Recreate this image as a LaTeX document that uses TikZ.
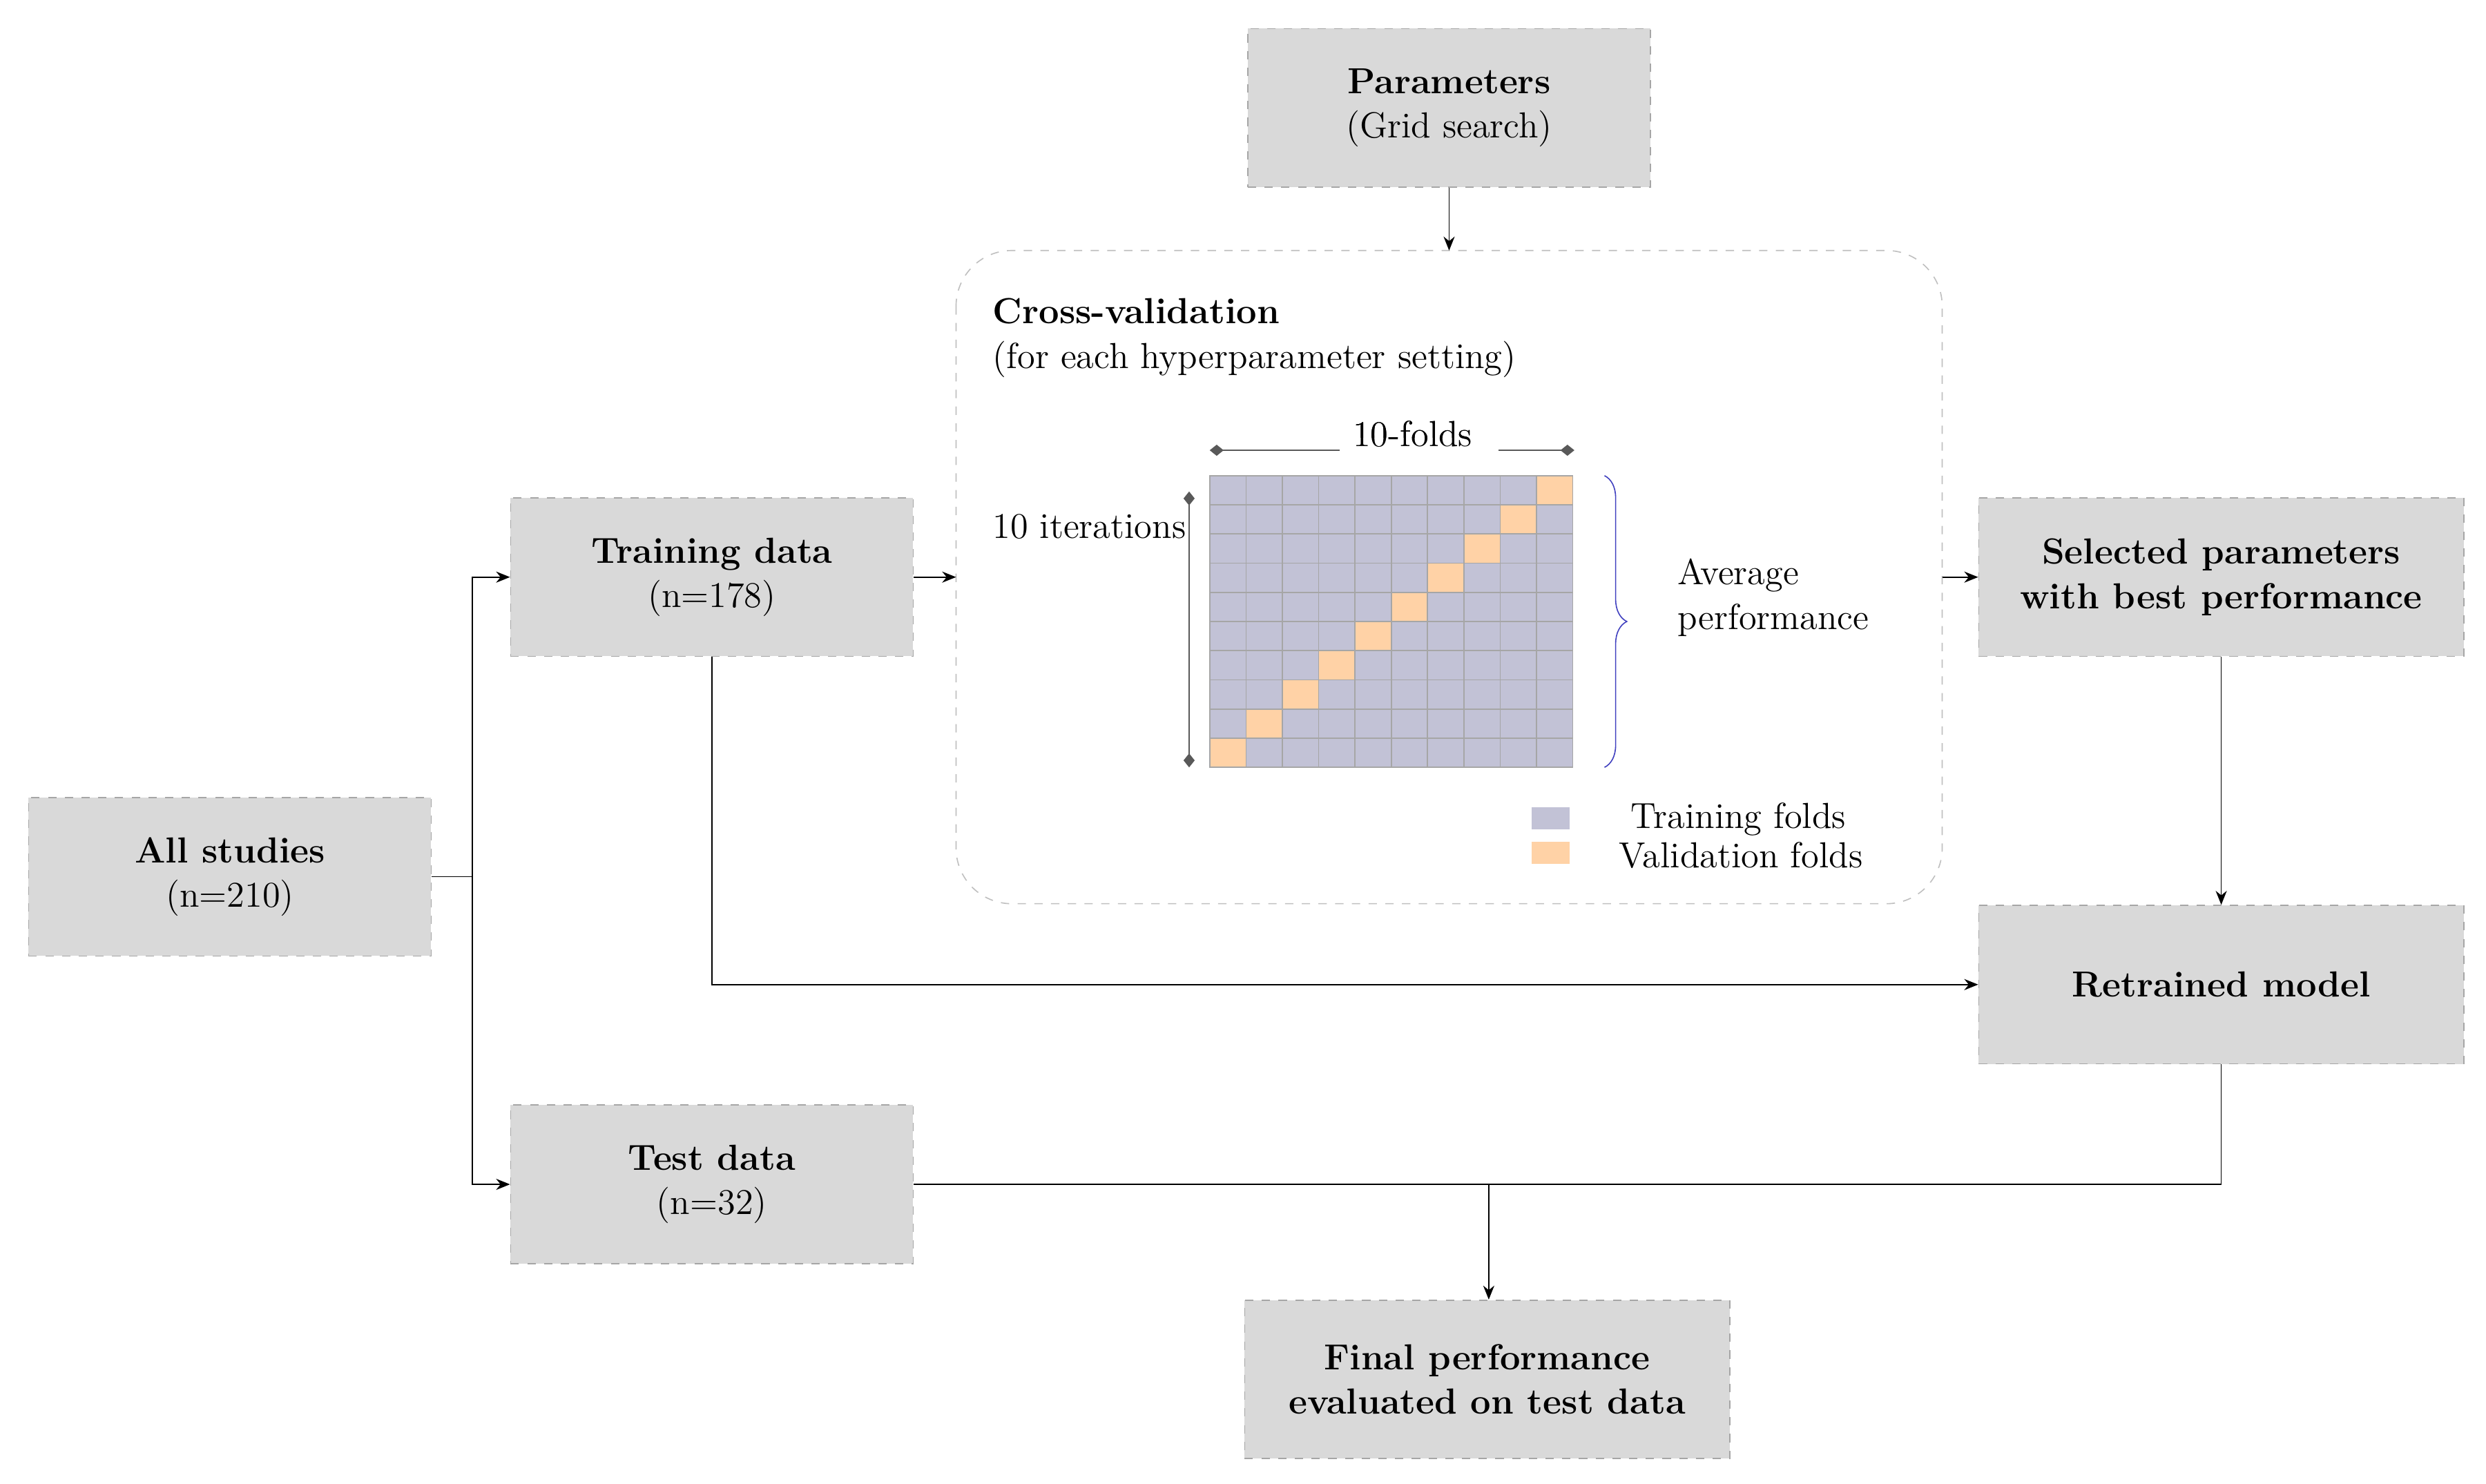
\documentclass[tikz,border=0pt]{standalone}
\usetikzlibrary{arrows.meta,decorations.pathreplacing}
\begin{document}
\begin{tikzpicture}[x=0.02cm,y=-0.02cm,
  box/.style={draw=gray!70,dashed,fill=black!15,minimum width=5.08cm,minimum height=2cm,align=center,font=\fontsize{13}{16}\selectfont,inner sep=0pt},
  arr/.style={-{Stealth[length=5pt,width=4pt]},thin},
  ln/.style={thin},
  dia/.style={{Diamond[length=5pt,width=4pt]}-{Diamond[length=5pt,width=4pt]},gray!70!black,thin}]
\useasboundingbox (0,0) rectangle (1568,936);
\node[box] (par) at (914,68) {\textbf{Parameters}\\(Grid search)};
\node[box,minimum width=6.12cm] (sel) at (1401,364) {\textbf{Selected parameters}\\\textbf{with best performance}};
\node[box,minimum width=6.12cm] (ret) at (1401,621) {\textbf{Retrained model}};
\node[box] (tr) at (449,364) {\textbf{Training data}\\(n=178)};
\node[box] (all) at (145,553) {\textbf{All studies}\\(n=210)};
\node[box] (te) at (449,747) {\textbf{Test data}\\(n=32)};
\node[box,minimum width=6.12cm] (fin) at (938,870) {\textbf{Final performance}\\\textbf{evaluated on test data}};
\draw[gray!50,dashed,rounded corners=20pt] (603,158) rectangle (1225,570);
\coordinate (cvt) at (914,158);
\coordinate (cvl) at (603,364);
\coordinate (cvr) at (1225,364);
\node[anchor=west,font=\fontsize{13}{16}\selectfont,align=left] (cvtitle) at (620,213) {\textbf{Cross-validation}\\(for each hyperparameter setting)};
% grid
\fill[blue!30!gray!45!white,fill=blue!20!gray!40] (763,300) rectangle (992,484);
\foreach \i in {0,...,9}{
  \fill[orange!35] ({763+\i*22.9},{484-(\i+1)*18.4}) rectangle ({763+(\i+1)*22.9},{484-\i*18.4});}
\foreach \i in {1,...,9}{
  \draw[gray!70,thin] ({763+\i*22.9},300) -- ({763+\i*22.9},484);
  \draw[gray!70,thin] (763,{300+\i*18.4}) -- (992,{300+\i*18.4});}
\draw[gray!70,thin] (763,300) rectangle (992,484);
\node[font=\fontsize{13}{16}\selectfont] (folds) at (891,274) {10-folds};
\coordinate (fa) at (763,284); \coordinate (fb) at (993,284);
\draw[dia] (fa) -- (fb);
\fill[white] (845,276) rectangle (945,292);
\node[font=\fontsize{13}{16}\selectfont] (folds2) at (891,274) {10-folds};
\coordinate (ia) at (750,310); \coordinate (ib) at (750,484);
\draw[dia] (ia) -- (ib);
\node[font=\fontsize{13}{16}\selectfont,fill=white,inner sep=1pt] (it) at (687,332) {10 iterations};
\draw[blue!50!gray,thin,decorate,decoration={brace,amplitude=8pt}] (1012,300) -- (1012,484);
\node[anchor=west,align=left,font=\fontsize{13}{16}\selectfont] (avg) at (1052,377) {Average\\performance};
\fill[blue!20!gray!40] (966,509) rectangle (990,523);
\fill[orange!35] (966,531) rectangle (990,545);
\node[anchor=west,font=\fontsize{13}{14}\selectfont,align=left] (leg) at (1015,527) {\ Training folds\\Validation folds};
% connectors
\draw[arr] (par) -- (cvt);
\coordinate (j) at (298,553);
\draw[ln] (all.east) -- (j);
\draw[arr] (j) |- (tr.west);
\draw[arr] (j) |- (te.west);
\draw[arr] (tr.east) -- (cvl);
\draw[arr] (cvr) -- (sel.west);
\draw[arr] (sel) -- (ret);
\draw[arr] (tr.south) |- (ret.west);
\coordinate (m) at (939,747);
\draw[ln] (te.east) -- (ret.south |- te.east) -- (ret.south);
\draw[arr] (m) -- (fin.north -| m);
\end{tikzpicture}
\end{document}
